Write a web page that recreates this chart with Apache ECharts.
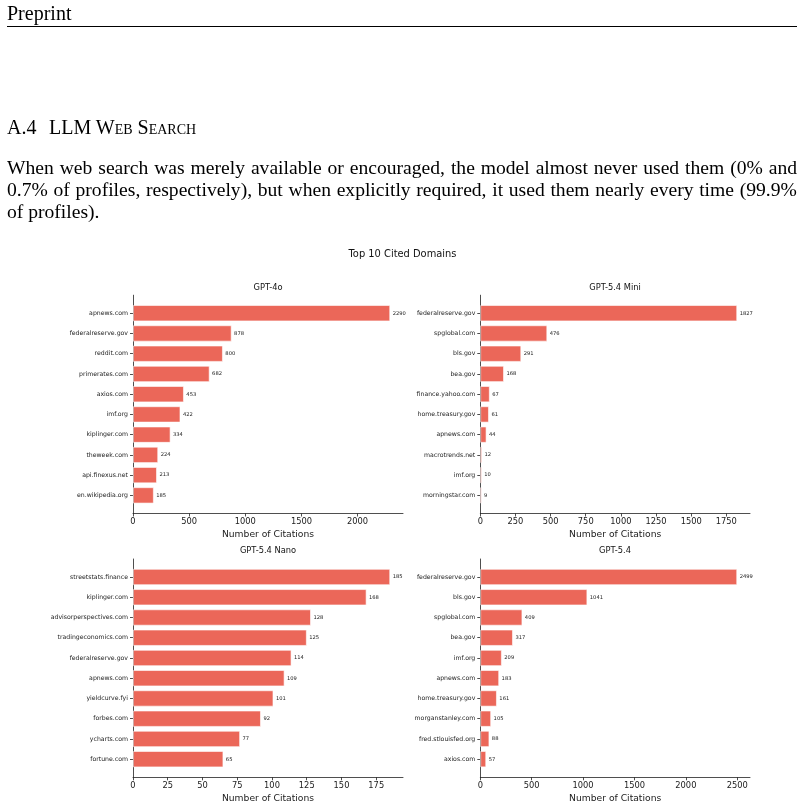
<!DOCTYPE html>
<html>
<head>
<meta charset="utf-8">
<script src="https://cdn.jsdelivr.net/npm/echarts@6/dist/echarts.min.js"></script>
<style>
  html, body { margin: 0; padding: 0; background: #fff; width: 804px; height: 807px; overflow: hidden; }
  #chart { position: absolute; left: 0; top: 0; width: 804px; height: 807px; }
  .paper { position: absolute; font-family: "Liberation Serif", "Times New Roman", serif; font-size: 20px; line-height: 22px; color: #000; z-index: 2; white-space: nowrap; }
  .hdr { left: 7px; top: 2px; }
  .rule { position: absolute; left: 7px; top: 26px; width: 790px; height: 1px; background: #000; z-index: 2; }
  .head { left: 7px; top: 116px; }
  .head .t { margin-left: 12.5px; font-variant: small-caps; }
  .line { left: 7px; width: 790px; font-size: 19.6px; }
  .j { display: flex; justify-content: space-between; }
</style>
</head>
<body>
<div id="chart"></div>
<div class="paper hdr">Preprint</div>
<div class="rule"></div>
<div class="paper head">A.4<span class="t">LLM Web Search</span></div>
<div class="paper line j" id="l1" style="top:157px;">When web search was merely available or encouraged, the model almost never used them (0% and</div>
<div class="paper line j" id="l2" style="top:179px;">0.7% of profiles, respectively), but when explicitly required, it used them nearly every time (99.9%</div>
<div class="paper line" style="top:201px;">of profiles).</div>
<script>
// split justified lines into word spans (flex justify keeps each on one line)
['l1', 'l2'].forEach(id => {
  const el = document.getElementById(id);
  const words = el.textContent.split(' ');
  el.textContent = '';
  words.forEach(w => { const s = document.createElement('span'); s.textContent = w; el.appendChild(s); });
});

// ---------------- data ----------------
const suptitle = "Top 10 Cited Domains";
const panelTitles = ["GPT-4o", "GPT-5.4 Mini", "GPT-5.4 Nano", "GPT-5.4"];

const gpt4oDomains = ["apnews.com", "federalreserve.gov", "reddit.com", "primerates.com", "axios.com", "imf.org", "kiplinger.com", "theweek.com", "api.finexus.net", "en.wikipedia.org"];
const gpt4oCounts = [2290, 878, 800, 682, 453, 422, 334, 224, 213, 185];

const miniDomains = ["federalreserve.gov", "spglobal.com", "bls.gov", "bea.gov", "finance.yahoo.com", "home.treasury.gov", "apnews.com", "macrotrends.net", "imf.org", "morningstar.com"];
const miniCounts = [1827, 476, 291, 168, 67, 61, 44, 12, 10, 9];

const nanoDomains = ["streetstats.finance", "kiplinger.com", "advisorperspectives.com", "tradingeconomics.com", "federalreserve.gov", "apnews.com", "yieldcurve.fyi", "forbes.com", "ycharts.com", "fortune.com"];
const nanoCounts = [185, 168, 128, 125, 114, 109, 101, 92, 77, 65];

const gpt54Domains = ["federalreserve.gov", "bls.gov", "spglobal.com", "bea.gov", "imf.org", "apnews.com", "home.treasury.gov", "morganstanley.com", "fred.stlouisfed.org", "axios.com"];
const gpt54Counts = [2499, 1041, 409, 317, 209, 183, 161, 105, 88, 57];

const gpt4oTicks = [0, 500, 1000, 1500, 2000];
const miniTicks = [0, 250, 500, 750, 1000, 1250, 1500, 1750];
const nanoTicks = [0, 25, 50, 75, 100, 125, 150, 175];
const gpt54Ticks = [0, 500, 1000, 1500, 2000, 2500];

const xAxisName = "Number of Citations";

// ---------------- layout / style ----------------
const FONT = "DejaVu Sans";
const INK = "#222";
const panels = [
  { title: panelTitles[0], cats: gpt4oDomains, vals: gpt4oCounts, ticks: gpt4oTicks, left: 133,   width: 270,   frameTop: 295.2, catTop: 303.1, titleX: 268, titleY: 288 },
  { title: panelTitles[1], cats: miniDomains,  vals: miniCounts,  ticks: miniTicks,  left: 480.3, width: 269.7, frameTop: 295.2, catTop: 303.1, titleX: 615, titleY: 288 },
  { title: panelTitles[2], cats: nanoDomains,  vals: nanoCounts,  ticks: nanoTicks,  left: 133,   width: 270,   frameTop: 559,   catTop: 566.9, titleX: 268, titleY: 551 },
  { title: panelTitles[3], cats: gpt54Domains, vals: gpt54Counts, ticks: gpt54Ticks, left: 480.3, width: 269.7, frameTop: 559,   catTop: 566.9, titleX: 615, titleY: 551 }
];
const FRAME_H = 218.3;
const CAT_H = 202.4;

const grid = [], xAxis = [], yAxis = [], series = [], graphic = [];

graphic.push({
  type: 'text', x: 402.5, y: 254.5,
  style: { text: suptitle, fontFamily: FONT, fontSize: 9.9, fill: '#111', align: 'center', verticalAlign: 'middle' }
});

panels.forEach((p, i) => {
  const maxV = Math.max(...p.vals) * 1.05; // matplotlib default 5% margin
  const fi = i * 2, ci = i * 2 + 1;
  grid.push({ left: p.left, top: p.frameTop, width: p.width, height: FRAME_H, containLabel: false });
  grid.push({ left: p.left, top: p.catTop, width: p.width, height: CAT_H, containLabel: false });

  // frame axes (spines, x ticks, labels, name)
  xAxis.push({
    type: 'value', gridIndex: fi, min: 0, max: maxV,
    axisLine: { show: true, lineStyle: { color: INK, width: 0.8 } },
    axisTick: { show: true, length: 3, inside: false, customValues: p.ticks, lineStyle: { color: INK, width: 0.8 } },
    axisLabel: { show: true, customValues: p.ticks, margin: 4.5, fontFamily: FONT, fontSize: 8.3, color: INK, formatter: v => String(v) },
    splitLine: { show: false },
    name: xAxisName, nameLocation: 'middle', nameGap: 16.5,
    nameTextStyle: { fontFamily: FONT, fontSize: 9.2, color: INK }
  });
  yAxis.push({
    type: 'value', gridIndex: fi, min: 0, max: 1,
    axisLine: { show: true, lineStyle: { color: INK, width: 0.8 } },
    axisTick: { show: false }, axisLabel: { show: false }, splitLine: { show: false }
  });

  // category axes (bars)
  xAxis.push({ type: 'value', gridIndex: ci, min: 0, max: maxV, show: false });
  yAxis.push({
    type: 'category', gridIndex: ci, data: p.cats, inverse: true,
    axisLine: { show: false },
    axisTick: { show: true, alignWithLabel: true, length: 3, lineStyle: { color: INK, width: 0.8 } },
    axisLabel: { show: true, margin: 5, fontFamily: FONT, fontSize: 6.2, color: INK, interval: 0 },
    splitLine: { show: false }
  });

  series.push({
    type: 'bar', xAxisIndex: ci, yAxisIndex: ci, data: p.vals,
    barCategoryGap: '20%',
    itemStyle: { color: 'rgba(231,76,60,0.85)', borderColor: 'rgba(255,255,255,0.75)', borderWidth: 0.8 },
    label: { show: true, position: 'right', distance: 2.5, fontFamily: FONT, fontSize: 5.2, color: INK },
    emphasis: { disabled: true }
  });

  graphic.push({
    type: 'text', x: p.titleX, y: p.titleY,
    style: { text: p.title, fontFamily: FONT, fontSize: 8.3, fill: '#111', align: 'center', verticalAlign: 'middle' }
  });
});

const chart = echarts.init(document.getElementById('chart'), null, { renderer: 'canvas' });
chart.setOption({
  animation: false,
  backgroundColor: '#ffffff',
  textStyle: { fontFamily: FONT },
  grid, xAxis, yAxis, series, graphic
});
</script>
</body>
</html>
